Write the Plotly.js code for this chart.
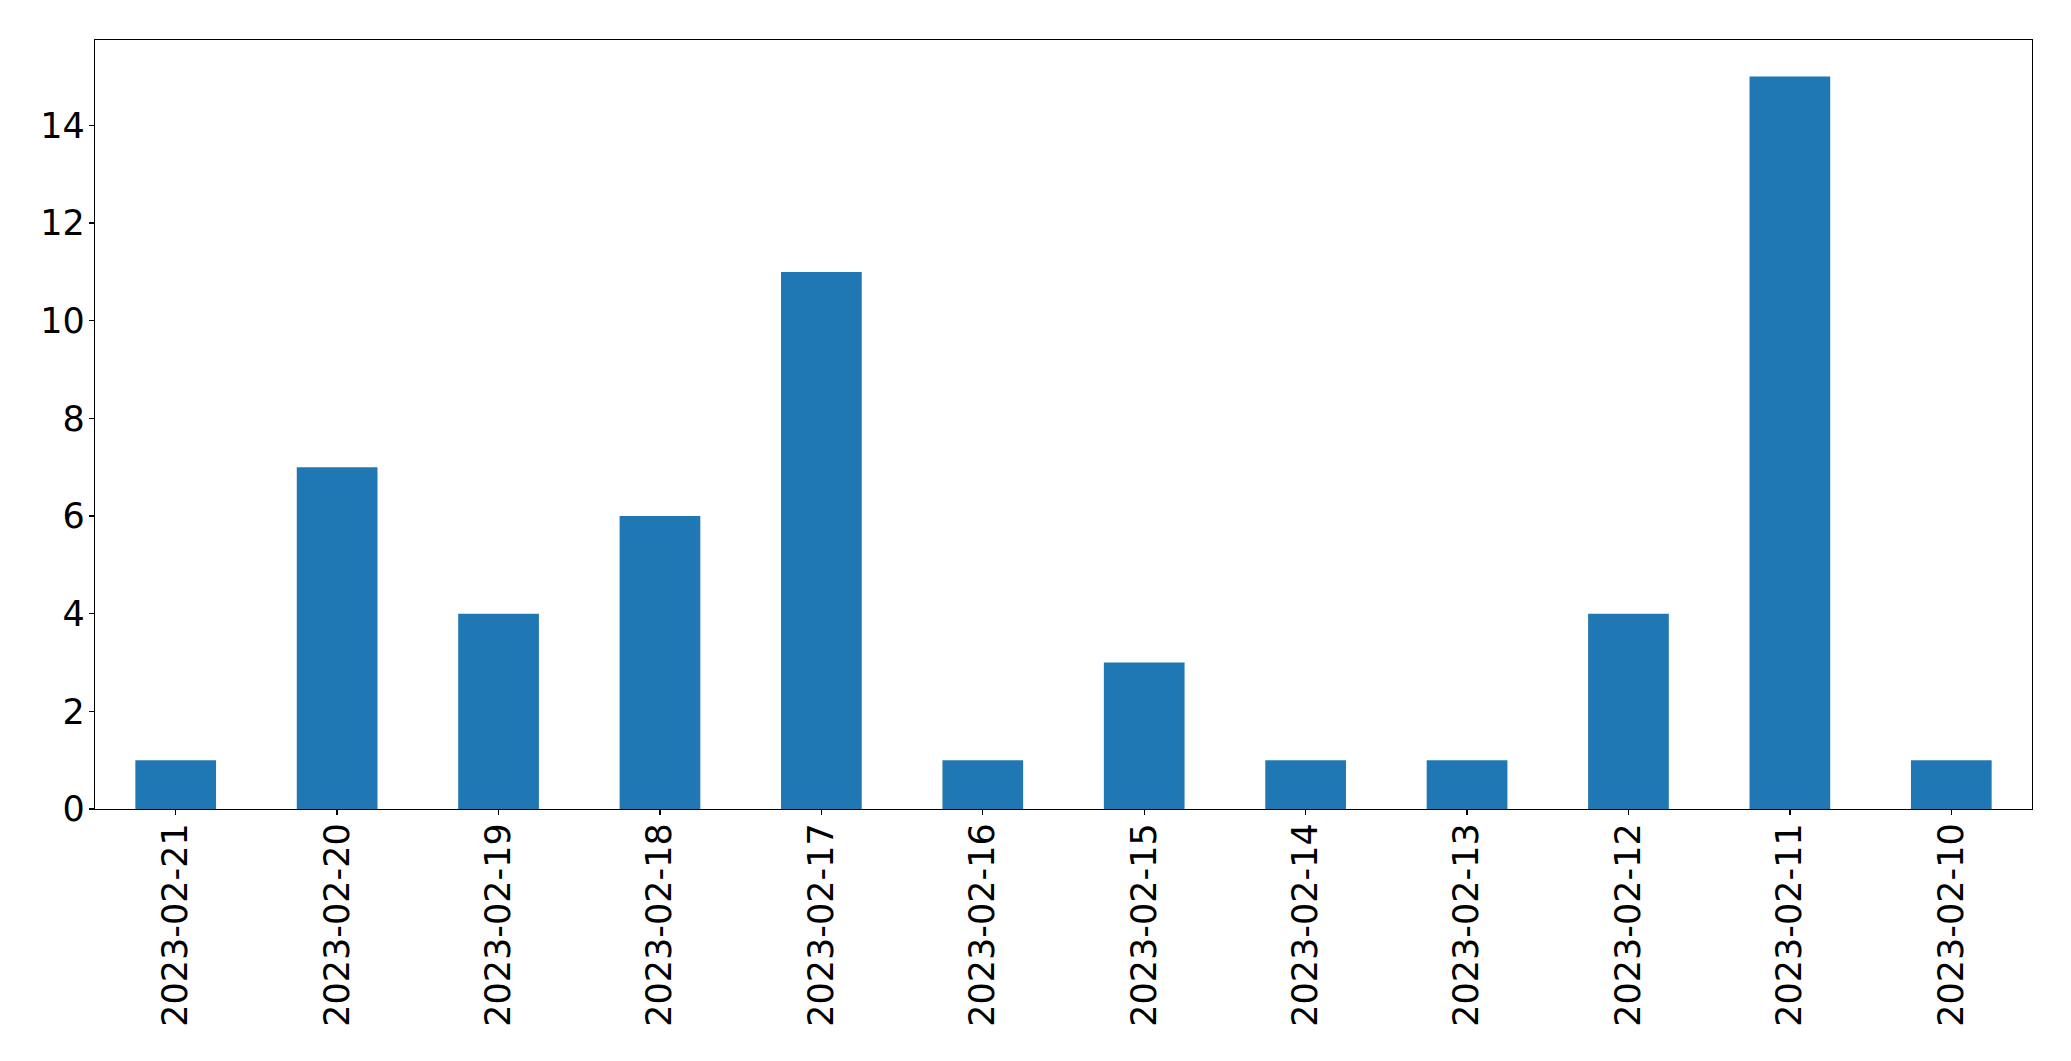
<!DOCTYPE html>
<html>
<head>
<meta charset="utf-8">
<script src="https://cdn.plot.ly/plotly-3.0.1.min.js"></script>
<style>html,body{margin:0;padding:0;background:#fff;}</style>
</head>
<body>
<div id="chart" style="width:2071px;height:1061px;"></div>
<script>
const dates = ["2023-02-21","2023-02-20","2023-02-19","2023-02-18","2023-02-17","2023-02-16","2023-02-15","2023-02-14","2023-02-13","2023-02-12","2023-02-11","2023-02-10"];
const counts = [1,7,4,6,11,1,3,1,1,4,15,1];
const yTicks = [0,2,4,6,8,10,12,14];

const font = {family: "DejaVu Sans", size: 35, color: "#000"};
Plotly.newPlot("chart", [{
  type: "bar",
  x: dates,
  y: counts,
  marker: {color: "#1f77b4", line: {width: 0}},
  hoverinfo: "x+y"
}], {
  width: 2071, height: 1061, autosize: false,
  margin: {l: 94.5, r: 39, t: 39.5, b: 252, pad: 0},
  paper_bgcolor: "#fff", plot_bgcolor: "#fff",
  bargap: 0.5,
  showlegend: false,
  font: font,
  xaxis: {
    type: "category", range: [-0.5, dates.length - 0.5],
    showline: true, mirror: true, linecolor: "#000", linewidth: 1.3,
    ticks: "outside", ticklen: 5, tickwidth: 1.3, tickcolor: "#000",
    tickangle: -90, tickfont: font, showgrid: false, zeroline: false,
    ticklabelstandoff: -6
  },
  yaxis: {
    range: [0, 15.75], tickvals: yTicks, ticktext: yTicks.map(String),
    showline: true, mirror: true, linecolor: "#000", linewidth: 1.3,
    ticks: "outside", ticklen: 5, tickwidth: 1.3, tickcolor: "#000",
    tickfont: font, showgrid: false, zeroline: false,
    ticklabelstandoff: -3
  }
}, {staticPlot: true});
</script>
</body>
</html>
